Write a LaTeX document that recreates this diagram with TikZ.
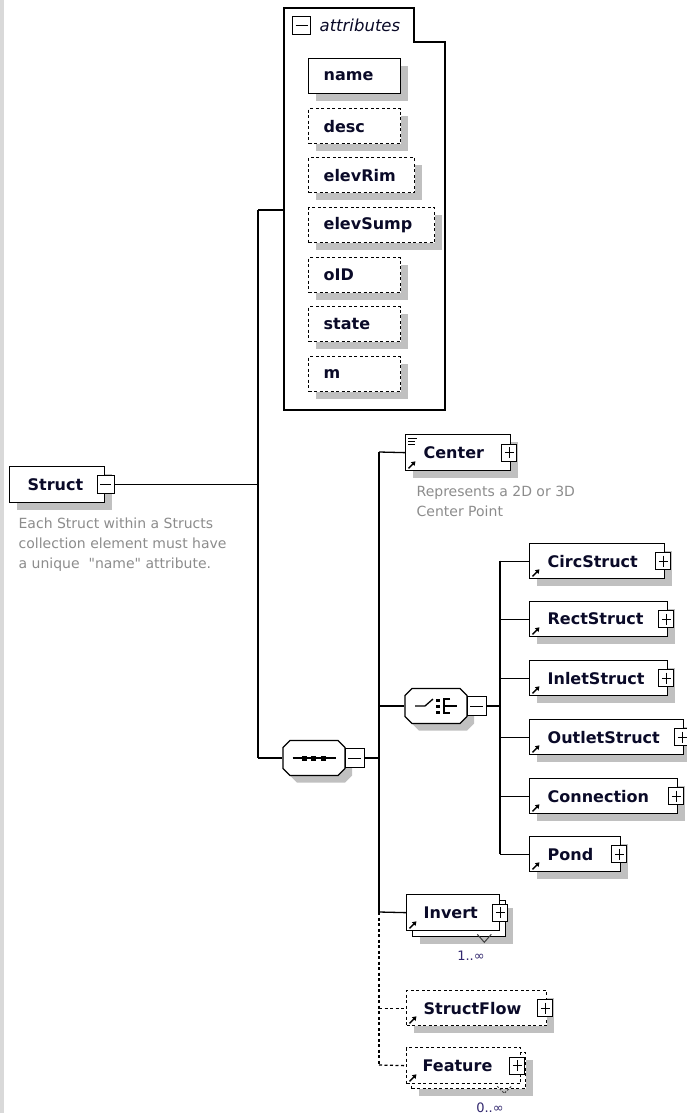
\documentclass[tikz,border=0pt]{standalone}
\usepackage{fontspec}
\setmainfont{DejaVu Sans}
\newfontfamily\descfont{DejaVu Sans}
\usetikzlibrary{arrows.meta}
\definecolor{shgray}{RGB}{192,192,192}
\definecolor{descgray}{RGB}{140,140,140}
\definecolor{txt}{RGB}{10,10,40}
\definecolor{stripe}{RGB}{217,217,217}
\definecolor{occ}{RGB}{50,40,110}
\newcommand\mkelem[7]{%
  \node[#6,minimum width=#4pt] (#1) at (#2,#3) {};
  \node[etxt] (#1-t) at ([xshift=#7pt]#1.west) {#5};
  \node[plusbox] (#1-pm) at ([xshift=-2pt]#1.east) {};
  \draw[refarrow] ([xshift=3.5pt,yshift=3pt]#1.south west) -- ++(7,-7);
}
\begin{document}
\begin{tikzpicture}[x=1pt,y=-1pt,line width=1.3pt,
 shadowed/.style={preaction={draw=none,fill=shgray,transform canvas={xshift=7pt,yshift=-7pt}}},
 ebox/.style={rectangle,draw=black,fill=white,line width=1.3pt,inner sep=0pt,minimum height=35pt,anchor=north west},
 sbox/.style={ebox,shadowed},
 obox/.style={ebox,shadowed,dash pattern=on 3pt off 2.5pt},
 oboxns/.style={ebox,dash pattern=on 3pt off 2.5pt},
 etxt/.style={font=\bfseries\fontsize{16}{18}\selectfont,text=txt,inner sep=0pt,anchor=west},
 dtxt/.style={font=\descfont\fontsize{14}{16}\selectfont,text=descgray,inner sep=0pt,anchor=base west},
 otxt/.style={font=\fontsize{13}{15}\selectfont,text=occ,inner sep=0pt,anchor=base},
 pmbox/.style={rectangle,draw=black,fill=white,line width=1pt,minimum width=15pt,minimum height=17pt,inner sep=0pt},
 minusbox/.style={pmbox,path picture={\draw[line width=1pt] ([xshift=3pt]path picture bounding box.west)--([xshift=-3pt]path picture bounding box.east);}},
 plusbox/.style={pmbox,path picture={\draw[line width=1pt] ([xshift=3pt]path picture bounding box.west)--([xshift=-3pt]path picture bounding box.east);\draw[line width=1pt] ([yshift=-3pt]path picture bounding box.north)--([yshift=3pt]path picture bounding box.south);}},
 conn/.style={line width=1.3pt},
 oconn/.style={line width=1.3pt,dash pattern=on 3pt off 2.5pt},
 refarrow/.style={line width=1.5pt,-{Triangle[length=4pt,width=5pt]}},
 octpath/.style={insert path={(-31,-10.5)--(-24,-17.5)--(24,-17.5)--(31,-10.5)--(31,10.5)--(24,17.5)--(-24,17.5)--(-31,10.5)--cycle}},
]
\useasboundingbox (0,0) rectangle (687,1113);
\fill[stripe] (0,0) rectangle (4,1113);

% ---------- attributes group ----------
\draw[line width=1.3pt] (284,410) -- (284,8) -- (414,8) -- (414,42) -- (445,42) -- (445,410) -- cycle;
\node[minusbox,minimum width=18pt,minimum height=18pt] (attr-pm) at (301.5,26) {};
\node[font=\itshape\fontsize{16.5}{18}\selectfont,text=txt,anchor=base west,inner sep=0pt] (attr-title) at (319,32) {attributes};

\node[sbox,minimum width=92pt] (a-name) at (308,58) {};
\node[etxt] (a-name-t) at ([xshift=15pt]a-name.west) {name};
\node[obox,minimum width=92pt] (a-desc) at (308,108) {};
\node[etxt] (a-desc-t) at ([xshift=15pt]a-desc.west) {desc};
\node[obox,minimum width=106pt] (a-rim) at (308,157) {};
\node[etxt] (a-rim-t) at ([xshift=15pt]a-rim.west) {elevRim};
\node[obox,minimum width=126pt] (a-sump) at (308,207) {};
\node[etxt] (a-sump-t) at ([xshift=15pt]a-sump.west) {elevSump};
\node[obox,minimum width=92pt] (a-oid) at (308,257) {};
\node[etxt] (a-oid-t) at ([xshift=15pt]a-oid.west) {oID};
\node[obox,minimum width=92pt] (a-state) at (308,306) {};
\node[etxt] (a-state-t) at ([xshift=15pt]a-state.west) {state};
\node[obox,minimum width=92pt] (a-m) at (308,356) {};
\node[etxt] (a-m-t) at ([xshift=15pt]a-m.west) {m};

% ---------- Struct ----------
\node[sbox,minimum width=95pt,minimum height=36pt] (struct) at (9,466) {};
\node[etxt] (struct-t) at ([xshift=18pt]struct.west) {Struct};
\node[minusbox,minimum width=17pt,minimum height=18pt] (struct-pm) at ([xshift=0.5pt]struct.east) {};
\node[dtxt] (struct-d1) at (18,528) {Each Struct within a Structs};
\node[dtxt] (struct-d2) at (18,548) {collection element must have};
\node[dtxt] (struct-d3) at (18,568) {a unique\ \ "name" attribute.};

\coordinate (trunk-top) at (258,210);
\coordinate (trunk-bot) at (258,758);
\coordinate (attr-in) at (284,210);
\draw[conn] (struct-pm.east) -- (struct-pm.east -| trunk-top);
\draw[conn] (trunk-top) -- (trunk-bot);
\draw[conn] (trunk-top) -- (attr-in);

% ---------- sequence compositor ----------
\node[inner sep=0pt,minimum width=62pt,minimum height=35pt] (seq) at (314,758) {};
\begin{scope}[shift={(seq.center)}]
  \begin{scope}[shift={(7,7)}]\fill[shgray,octpath];\end{scope}
  \draw[fill=white,line width=1.3pt,octpath];
  \draw[line width=1.3pt] (-21.5,0) -- (21.5,0);
  \fill (-12.5,-2.5) rectangle (-7.5,2.5);
  \fill (-3,-2.5) rectangle (2,2.5);
  \fill (6.5,-2.5) rectangle (11.5,2.5);
\end{scope}
\node[minusbox,minimum width=19pt,minimum height=19pt] (seq-pm) at (354.5,758) {};
\draw[conn] (trunk-bot) -- (seq.west);

\coordinate (sbar-top) at (379,452);
\coordinate (sbar-mid) at (379,912);
\coordinate (sbar-bot) at (379,1065);
\draw[conn] (seq-pm.east) -- (seq-pm.east -| sbar-top);
\draw[conn] (sbar-top) -- (sbar-mid);
\draw[oconn] (sbar-mid) -- (sbar-bot);

% ---------- Center ----------
\node[sbox,minimum width=105pt,minimum height=36pt] (center) at (405,434) {};
\node[etxt] (center-t) at ([xshift=18pt]center.west) {Center};
\node[plusbox] (center-pm) at ([xshift=-2pt]center.east) {};
\draw[refarrow] ([xshift=3.5pt,yshift=3pt]center.south west) -- ++(7,-7);
\draw[line width=1pt] ([xshift=3pt,yshift=-4pt]center.north west) -- ++(9,0);
\draw[line width=1pt] ([xshift=3pt,yshift=-7pt]center.north west) -- ++(7,0);
\draw[line width=1pt] ([xshift=3pt,yshift=-10pt]center.north west) -- ++(7,0);
\draw[conn] (sbar-top) -- (center.west);
\node[dtxt] (center-d1) at (416,496) {Represents a 2D or 3D};
\node[dtxt] (center-d2) at (416,516) {Center Point};

% ---------- choice compositor ----------
\node[inner sep=0pt,minimum width=62pt,minimum height=35pt] (choice) at (436,706) {};
\begin{scope}[shift={(choice.center)}]
  \begin{scope}[shift={(7,7)}]\fill[shgray,octpath];\end{scope}
  \draw[fill=white,line width=1.3pt,octpath];
  \draw[line width=1.3pt] (-21,0) -- (-11,0) -- (-3,-7);
  \fill (0,-7.5) rectangle (3.5,-4);
  \fill (0,-1.5) rectangle (3.5,2);
  \fill (0,4.5) rectangle (3.5,8);
  \draw[line width=1.3pt] (14,-7) -- (8,-7) -- (8,7) -- (14,7);
  \draw[line width=1.3pt] (8,0) -- (21,0);
\end{scope}
\node[minusbox,minimum width=19pt,minimum height=19pt] (choice-pm) at (476.5,706) {};
\draw[conn] (choice.west -| sbar-top) -- (choice.west);

\coordinate (cbar-top) at (500,560.5);
\coordinate (cbar-bot) at (500,853.5);
\draw[conn] (choice-pm.east) -- (choice-pm.east -| cbar-top);
\draw[conn] (cbar-top) -- (cbar-bot);

\mkelem{circ}{529}{543}{135}{CircStruct}{sbox}{18}
\mkelem{rect}{529}{601}{138}{RectStruct}{sbox}{18}
\mkelem{inlet}{529}{660}{138}{InletStruct}{sbox}{18}
\mkelem{outlet}{529}{719}{154}{OutletStruct}{sbox}{18}
\mkelem{connection}{529}{778}{148}{Connection}{sbox}{18}
\mkelem{pond}{529}{836}{91}{Pond}{sbox}{18}
\foreach \c in {circ,rect,inlet,outlet,connection,pond}
  \draw[conn] (\c.west -| cbar-top) -- (\c.west);

% ---------- Invert ----------
\node[sbox,minimum width=93pt,minimum height=36pt] (invert-b) at (412,900) {};
\node[ebox,minimum width=93pt,minimum height=36pt] (invert) at (406,894) {};
\node[etxt] (invert-t) at ([xshift=17pt]invert.west) {Invert};
\node[plusbox] (invert-pm) at ([xshift=0pt]invert.east) {};
\draw[refarrow] ([xshift=3.5pt,yshift=3pt]invert.south west) -- ++(7,-7);
\draw[line width=1pt,draw=black!75] ([xshift=-29pt,yshift=3pt]invert-b.south east) -- ++(7,8) -- ++(7,-8);
\node[otxt] (invert-occ) at (471,960) {1..∞};
\draw[conn] (sbar-mid) -- (invert.west);

% ---------- StructFlow ----------
\mkelem{sflow}{406}{990}{140}{StructFlow}{obox}{17}
\draw[oconn] (sflow.west -| sbar-top) -- (sflow.west);

% ---------- Feature ----------
\node[obox,minimum width=114pt,minimum height=36pt] (feature-b) at (411,1052) {};
\node[oboxns,minimum width=114pt,minimum height=36pt] (feature) at (406,1047) {};
\node[etxt] (feature-t) at ([xshift=16pt]feature.west) {Feature};
\node[plusbox] (feature-pm) at ([xshift=-4pt]feature.east) {};
\draw[refarrow] ([xshift=3.5pt,yshift=3pt]feature.south west) -- ++(7,-7);
\draw[line width=1pt,draw=black!75,dash pattern=on 2pt off 1.5pt] ([xshift=-29pt,yshift=3pt]feature-b.south east) -- ++(7,7) -- ++(7,-7);
\node[otxt] (feature-occ) at (490,1112) {0..∞};
\draw[oconn] (sbar-bot) -- (feature.west);
\end{tikzpicture}
\end{document}
